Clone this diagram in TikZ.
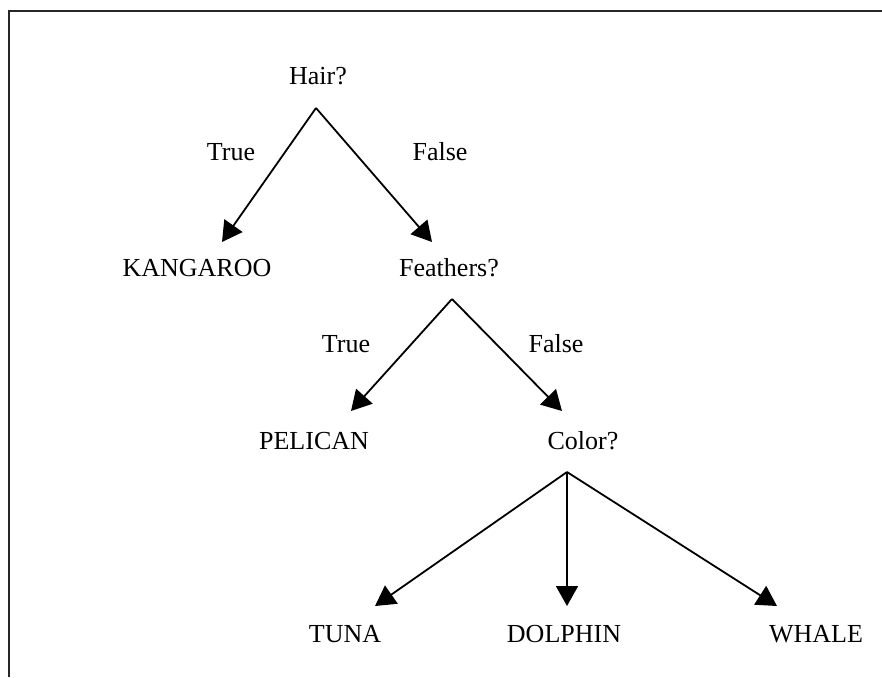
\documentclass[tikz,border=0pt]{standalone}
\usepackage{fontspec}
\setmainfont{Liberation Serif}
\usetikzlibrary{arrows.meta}
\begin{document}
\begin{tikzpicture}[x=1pt,y=-1pt,
  lbl/.style={anchor=base,inner sep=0pt,font=\fontsize{26}{30}\selectfont},
  arr/.style={line width=1.8pt,-{Triangle[length=20pt,width=22pt]}},
  frame/.style={line width=1.6pt,black!85}]
\useasboundingbox (0,0) rectangle (882,677);
\draw[frame] (9,677) -- (9,11) -- (882,11);
% text nodes
\node[lbl] (hair) at (318,84) {Hair?};
\node[lbl] (t1) at (231,160) {True};
\node[lbl] (f1) at (440,160) {False};
\node[lbl] (kan) at (197,276) {KANGAROO};
\node[lbl] (fea) at (449,276) {Feathers?};
\node[lbl] (t2) at (346,352) {True};
\node[lbl] (f2) at (556,352) {False};
\node[lbl] (pel) at (314,449) {PELICAN};
\node[lbl] (col) at (583,449) {Color?};
\node[lbl] (tuna) at (345,642) {TUNA};
\node[lbl] (dol) at (564,642) {DOLPHIN};
\node[lbl] (wha) at (816,642) {WHALE};
% connector ends
\coordinate (hairA) at (316,108);
\coordinate (kanT) at (222,242);
\coordinate (feaT) at (432,242);
\coordinate (feaA) at (452,299);
\coordinate (pelT) at (351,411);
\coordinate (colT) at (562,411);
\coordinate (colA) at (567,472);
\coordinate (tunaT) at (375,606);
\coordinate (dolT) at (567,606);
\coordinate (whaT) at (777,606);
\draw[arr] (hairA) -- (kanT);
\draw[arr] (hairA) -- (feaT);
\draw[arr] (feaA) -- (pelT);
\draw[arr] (feaA) -- (colT);
\draw[arr] (colA) -- (tunaT);
\draw[arr] (colA) -- (dolT);
\draw[arr] (colA) -- (whaT);
\end{tikzpicture}
\end{document}
